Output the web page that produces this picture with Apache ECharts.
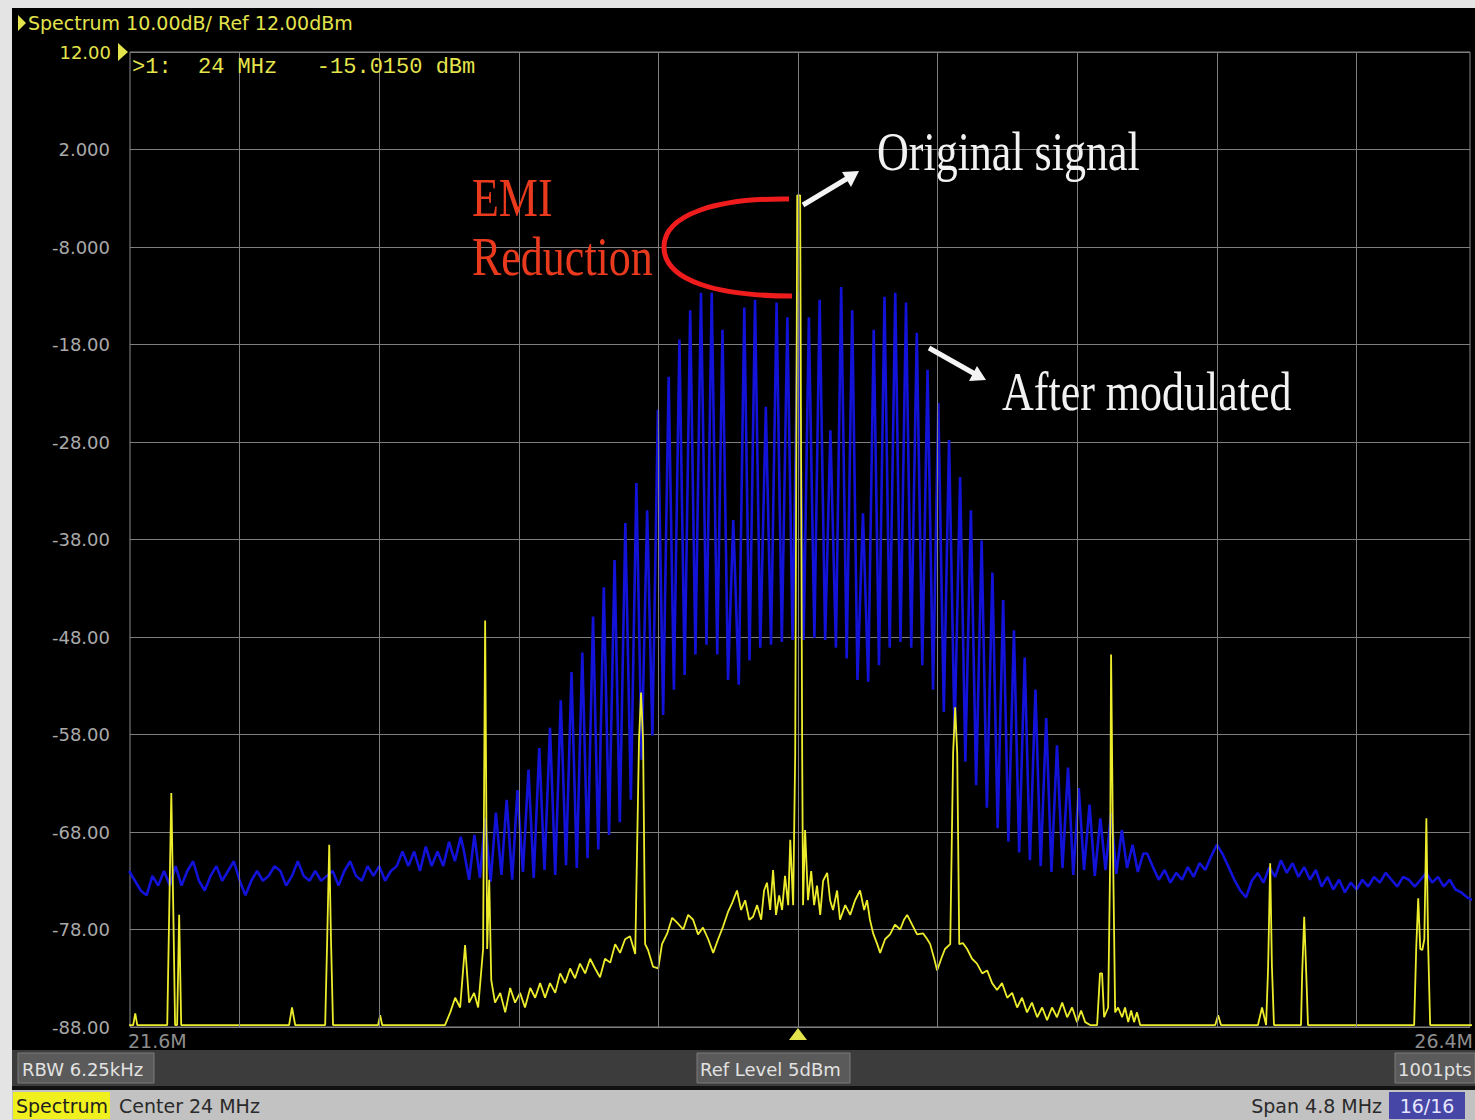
<!DOCTYPE html>
<html>
<head>
<meta charset="utf-8">
<script src="https://cdn.jsdelivr.net/npm/echarts@6/dist/echarts.min.js"></script>
<style>
html,body{margin:0;padding:0;background:#000;}
#c{width:1475px;height:1120px;}
</style>
</head>
<body>
<div id="c"></div>
<script>
// ---------- axis settings (MHz / dBm) ----------
const freqMin = 21.703, freqMax = 26.310;
const levelMin = -88, levelMax = 12, levelStep = 10;
const gridFreqs = [22.08, 22.56, 23.04, 23.52, 24.00, 24.48, 24.96, 25.44, 25.92];

// ---------- blue trace: after modulation ----------
const blueNoiseLeft = [
 [21.70,-72.0],[21.72,-73.0],[21.74,-74.0],[21.76,-74.5],[21.78,-72.5],[21.80,-73.5],[21.82,-72.0],[21.84,-73.5],
 [21.86,-71.5],[21.88,-73.5],[21.90,-72.0],[21.92,-71.0],[21.94,-73.0],[21.96,-74.0],[21.98,-72.5],[22.00,-71.5],
 [22.02,-73.0],[22.04,-72.0],[22.06,-71.0],[22.08,-73.0],[22.10,-74.5],[22.12,-73.0],[22.14,-72.0],[22.16,-73.0],
 [22.18,-72.5],[22.20,-71.5],[22.22,-72.0],[22.24,-73.5],[22.26,-72.5],[22.28,-71.0],[22.30,-72.5],[22.32,-73.0],
 [22.34,-72.0],[22.36,-73.0],[22.38,-72.5],[22.40,-72.0],[22.42,-73.5],[22.44,-72.0],[22.46,-71.0],[22.48,-72.5],
 [22.50,-73.0],[22.52,-71.5],[22.54,-72.5],[22.56,-71.5],[22.58,-73.0],[22.60,-72.0],[22.62,-71.5],[22.64,-70.0],
 [22.66,-71.5],[22.68,-70.0],[22.70,-72.0],[22.72,-69.5],[22.74,-71.5],[22.76,-70.0],[22.78,-71.5],[22.80,-69.0],
 [22.82,-71.0],[22.84,-68.5]
];
const blueComb = [
 [22.850,-69.8],[22.869,-72.9],[22.887,-68.3],[22.906,-72.7],[22.924,-66.6],[22.943,-73.1],[22.961,-66.0],[22.980,-72.4],
 [22.998,-64.7],[23.017,-72.9],[23.035,-63.7],[23.054,-72.1],[23.073,-61.6],[23.091,-72.7],[23.110,-59.4],[23.128,-71.9],
 [23.147,-57.3],[23.165,-72.4],[23.184,-54.5],[23.202,-71.4],[23.221,-51.6],[23.239,-71.7],[23.258,-49.6],[23.276,-70.7],
 [23.295,-45.9],[23.313,-69.8],[23.332,-42.9],[23.350,-68.3],[23.369,-40.1],[23.387,-67.0],[23.406,-36.3],[23.425,-64.7],
 [23.444,-32.2],[23.462,-60.6],[23.481,-35.0],[23.499,-58.1],[23.518,-24.7],[23.536,-56.0],[23.555,-21.3],[23.573,-53.4],
 [23.592,-17.5],[23.610,-51.9],[23.629,-14.5],[23.647,-49.8],[23.666,-12.7],[23.685,-48.8],[23.703,-12.7],[23.722,-49.8],
 [23.740,-16.5],[23.759,-52.4],[23.777,-36.0],[23.796,-52.9],[23.815,-14.2],[23.833,-50.4],[23.852,-13.4],[23.870,-49.1],
 [23.889,-24.4],[23.907,-48.8],[23.926,-13.7],[23.944,-48.5],[23.963,-15.2],[23.981,-48.3],[24.000,-12.6],[24.019,-48.3],
 [24.037,-15.2],[24.056,-48.1],[24.074,-13.4],[24.093,-48.3],[24.111,-26.8],[24.130,-49.1],[24.148,-12.1],[24.167,-50.2],
 [24.186,-14.5],[24.204,-52.4],[24.223,-35.3],[24.241,-52.6],[24.260,-16.5],[24.278,-50.9],[24.297,-13.1],[24.315,-49.1],
 [24.334,-12.7],[24.352,-48.5],[24.371,-13.7],[24.389,-49.1],[24.408,-16.8],[24.427,-50.9],[24.445,-20.6],[24.464,-53.4],
 [24.482,-24.0],[24.501,-55.7],[24.519,-27.8],[24.538,-58.1],[24.557,-31.6],[24.575,-60.8],[24.594,-35.0],[24.612,-63.2],
 [24.631,-38.1],[24.649,-65.5],[24.668,-41.4],[24.686,-67.6],[24.705,-44.2],[24.723,-69.0],[24.742,-47.3],[24.760,-70.1],
 [24.779,-50.1],[24.797,-70.9],[24.816,-53.4],[24.834,-71.5],[24.853,-56.3],[24.871,-72.1],[24.890,-59.1],[24.909,-71.7],
 [24.928,-61.4],[24.946,-72.4],[24.965,-63.5],[24.983,-71.9],[25.002,-65.2],[25.020,-72.5],[25.039,-66.6],[25.057,-71.9],
 [25.076,-66.0],[25.094,-72.3],[25.113,-67.8],[25.131,-71.7],[25.150,-69.3],[25.168,-72.1],[25.187,-70.2]
];
const blueNoiseRight = [
 [25.20,-70.2],[25.22,-71.6],[25.24,-72.9],[25.26,-71.9],[25.28,-73.2],[25.30,-72.2],[25.32,-72.9],[25.34,-71.6],
 [25.36,-72.6],[25.38,-71.2],[25.40,-71.9],[25.42,-70.5],[25.44,-69.3],[25.46,-70.3],[25.48,-71.6],[25.50,-72.9],
 [25.52,-74.0],[25.54,-74.7],[25.56,-73.0],[25.58,-72.2],[25.60,-73.2],[25.62,-71.6],[25.64,-72.6],[25.66,-70.9],
 [25.68,-72.2],[25.70,-71.2],[25.72,-72.6],[25.74,-71.6],[25.76,-72.9],[25.78,-71.9],[25.80,-73.6],[25.82,-72.6],
 [25.84,-73.9],[25.86,-72.9],[25.88,-74.2],[25.90,-73.2],[25.92,-73.9],[25.94,-72.9],[25.96,-73.6],[25.98,-72.6],
 [26.00,-73.2],[26.02,-72.2],[26.04,-72.9],[26.06,-73.6],[26.08,-72.6],[26.10,-72.9],[26.12,-73.6],[26.14,-72.9],
 [26.16,-72.2],[26.18,-73.2],[26.20,-72.6],[26.22,-73.6],[26.24,-72.9],[26.26,-73.9],[26.28,-74.2],[26.30,-74.7],
 [26.32,-75.0]
];

// ---------- yellow trace: original signal ----------
const yellowTrace = [
 [21.700,-87.8],[21.714,-87.8],[21.721,-86.6],[21.728,-87.8],
 [21.831,-87.8],[21.838,-76.0],[21.845,-64.0],[21.852,-76.3],[21.858,-87.8],
 [21.865,-87.8],[21.872,-76.5],[21.879,-87.8],
 [22.250,-87.8],[22.260,-86.0],[22.271,-87.8],
 [22.374,-87.8],[22.381,-79.0],[22.388,-69.3],[22.394,-79.0],[22.401,-87.8],
 [22.556,-87.8],[22.563,-86.8],[22.570,-87.8],
 [22.786,-87.8],[22.804,-86.5],[22.821,-85.0],[22.838,-86.0],[22.855,-79.6],[22.869,-85.5],[22.886,-84.5],[22.900,-86.0],
 [22.917,-80.0],[22.924,-46.3],[22.931,-80.0],[22.938,-72.9],[22.945,-83.2],
 [22.958,-85.5],[22.976,-84.5],[22.993,-86.5],[23.010,-84.0],[23.027,-85.5],[23.044,-84.5],[23.061,-86.0],[23.079,-84.0],
 [23.096,-85.0],[23.113,-83.5],[23.130,-85.0],[23.147,-83.5],[23.165,-84.5],[23.182,-82.5],[23.199,-83.5],[23.216,-82.0],
 [23.233,-83.0],[23.250,-81.5],[23.268,-82.5],[23.285,-81.0],[23.302,-82.0],[23.319,-82.9],[23.336,-81.0],[23.354,-81.4],
 [23.371,-79.5],[23.388,-80.4],[23.405,-79.0],[23.422,-78.7],[23.440,-80.5],
 [23.453,-58.6],[23.460,-53.7],[23.467,-58.6],[23.474,-79.5],
 [23.484,-80.1],[23.501,-81.8],[23.519,-82.0],[23.532,-79.5],[23.550,-78.4],[23.567,-76.8],[23.584,-77.3],[23.605,-78.0],
 [23.622,-76.5],[23.639,-77.0],[23.656,-78.5],[23.673,-77.8],[23.691,-79.0],[23.708,-80.4],[23.725,-79.0],[23.742,-77.7],
 [23.759,-76.2],[23.773,-75.3],[23.790,-74.0],[23.804,-76.0],[23.818,-75.0],[23.832,-77.0],[23.845,-76.7],[23.859,-75.5],
 [23.873,-77.0],[23.883,-74.0],[23.893,-73.2],[23.904,-76.0],[23.914,-71.9],[23.924,-76.5],[23.935,-74.5],[23.945,-76.0],
 [23.955,-72.5],[23.966,-75.5],[23.973,-68.8],[23.983,-75.5],
 [23.990,-60.0],[23.997,-2.7],[24.007,-2.7],[24.014,-60.0],
 [24.017,-75.5],[24.024,-67.8],[24.034,-75.0],[24.045,-72.0],[24.055,-75.5],[24.065,-73.5],[24.076,-76.5],[24.086,-73.0],
 [24.100,-72.2],[24.110,-75.0],[24.120,-76.0],[24.134,-74.0],[24.144,-77.0],[24.162,-75.5],[24.179,-76.5],[24.196,-75.0],
 [24.213,-74.0],[24.227,-76.0],[24.237,-75.0],[24.247,-77.0],[24.258,-78.4],[24.272,-79.5],[24.282,-80.4],[24.299,-79.0],
 [24.316,-78.5],[24.333,-77.5],[24.351,-78.0],[24.364,-77.0],[24.375,-76.5],[24.392,-77.5],[24.409,-78.5],[24.430,-78.4],
 [24.444,-79.0],[24.454,-79.5],[24.468,-81.0],[24.478,-82.2],[24.492,-81.0],[24.505,-80.0],[24.523,-79.5],
 [24.533,-59.9],[24.540,-55.2],[24.547,-59.9],[24.554,-79.5],
 [24.567,-79.4],[24.581,-80.0],[24.598,-81.0],[24.615,-81.5],[24.633,-82.5],[24.650,-82.2],[24.667,-83.5],[24.684,-84.2],
 [24.701,-83.5],[24.719,-85.0],[24.736,-84.5],[24.753,-86.0],[24.770,-85.0],[24.787,-86.5],[24.804,-85.5],[24.822,-87.0],
 [24.839,-86.0],[24.856,-87.3],[24.873,-86.0],[24.890,-87.0],[24.908,-85.5],[24.925,-87.0],[24.942,-86.0],[24.959,-87.5],
 [24.973,-86.3],[24.987,-87.5],[25.004,-87.8],
 [25.028,-87.8],[25.038,-82.5],[25.045,-82.5],[25.052,-87.0],[25.066,-86.0],[25.073,-70.6],[25.076,-49.8],[25.083,-70.6],
 [25.090,-86.5],[25.100,-86.0],[25.114,-87.0],[25.124,-86.0],[25.135,-87.5],[25.145,-86.3],[25.155,-87.5],[25.165,-86.5],
 [25.176,-87.8],
 [25.434,-87.8],[25.444,-86.8],[25.454,-87.8],
 [25.581,-87.8],[25.595,-86.0],[25.609,-87.8],[25.616,-81.8],[25.623,-71.2],[25.629,-81.8],[25.636,-87.8],
 [25.729,-87.8],[25.733,-82.5],[25.740,-76.7],[25.747,-82.5],[25.753,-87.8],
 [26.118,-87.8],[26.125,-80.0],[26.132,-74.8],[26.139,-80.0],[26.146,-80.1],[26.153,-79.0],[26.160,-66.6],[26.166,-79.5],
 [26.173,-87.8],
 [26.318,-87.8]
];

// ---------- texts ----------
const headerText = 'Spectrum 10.00dB/ Ref 12.00dBm';
const refLabel = '12.00';
const markerText = '>1:  24 MHz   -15.0150 dBm';
const startLabel = '21.6M', stopLabel = '26.4M';
const statusBoxes = ['RBW 6.25kHz', 'Ref Level 5dBm', '1001pts'];
const footerLeft = ['Spectrum', 'Center 24 MHz'];
const footerRight = ['Span 4.8 MHz', '16/16'];
const annotations = { emi1: 'EMI', emi2: 'Reduction', orig: 'Original signal', after: 'After modulated' };

const blueData = blueNoiseLeft.concat(blueComb, blueNoiseRight);

const YEL = '#e4e44c';
const SANS = '"DejaVu Sans", sans-serif';
const SERIF = '"Liberation Serif", "DejaVu Serif", serif';

function txt(x, y, text, font, fill, align, extra) {
  return Object.assign({
    type: 'text', x: x, y: y, z: 100,
    style: { text: text, font: font, fill: fill, align: align || 'left', verticalAlign: 'middle',
             textAlign: align || 'left', textVerticalAlign: 'middle' }
  }, extra || {});
}

const graphic = [
  // frame strips
  { type: 'rect', z: 90, shape: { x: 0, y: 0, width: 1475, height: 8 }, style: { fill: '#e4e4e4' } },
  { type: 'rect', z: 90, shape: { x: 0, y: 0, width: 12, height: 1120 }, style: { fill: '#e4e4e4' } },
  // header
  { type: 'polygon', z: 100, shape: { points: [[18, 15], [26, 23], [18, 31]] }, style: { fill: YEL } },
  txt(28, 23, headerText, '19px ' + SANS, YEL),
  txt(111, 52, refLabel, '18px ' + SANS, YEL, 'right'),
  { type: 'polygon', z: 100, shape: { points: [[118, 43], [128, 52], [118, 61]] }, style: { fill: YEL } },
  txt(132, 67, markerText, '22px "Liberation Mono", "DejaVu Sans Mono", monospace', YEL),
  // x labels + center marker
  txt(128, 1041, startLabel, '19px ' + SANS, '#8e8e8e'),
  txt(1473, 1041, stopLabel, '19px ' + SANS, '#8e8e8e', 'right'),
  { type: 'polygon', z: 100, shape: { points: [[789, 1040], [798, 1028], [807, 1040]] }, style: { fill: YEL } },
  // status band
  { type: 'rect', z: 90, shape: { x: 12, y: 1050, width: 1463, height: 36 }, style: { fill: '#3c3c3c' } },
  { type: 'rect', z: 90, shape: { x: 12, y: 1086, width: 1463, height: 4 }, style: { fill: '#111' } },
  { type: 'rect', z: 91, shape: { x: 18, y: 1053, width: 136, height: 30 }, style: { fill: '#5a5a5a', stroke: '#7a7a7a', lineWidth: 1 } },
  txt(22, 1069, statusBoxes[0], '18px ' + SANS, '#e2e2e2'),
  { type: 'rect', z: 91, shape: { x: 697, y: 1053, width: 153, height: 30 }, style: { fill: '#5a5a5a', stroke: '#7a7a7a', lineWidth: 1 } },
  txt(700, 1069, statusBoxes[1], '18px ' + SANS, '#e2e2e2'),
  { type: 'rect', z: 91, shape: { x: 1395, y: 1053, width: 80, height: 30 }, style: { fill: '#5a5a5a', stroke: '#7a7a7a', lineWidth: 1 } },
  txt(1398, 1069, statusBoxes[2], '18px ' + SANS, '#e2e2e2'),
  // footer
  { type: 'rect', z: 90, shape: { x: 12, y: 1090, width: 1463, height: 30 }, style: { fill: '#c2c2c2' } },
  { type: 'rect', z: 91, shape: { x: 13, y: 1092, width: 97, height: 27 }, style: { fill: '#f0f01e' } },
  txt(16, 1106, footerLeft[0], '19px ' + SANS, '#1e1e1e'),
  txt(119, 1106, footerLeft[1], '19px ' + SANS, '#2a2a2a'),
  txt(1382, 1106, footerRight[0], '19px ' + SANS, '#2a2a2a', 'right'),
  { type: 'rect', z: 91, shape: { x: 1389, y: 1092, width: 76, height: 27 }, style: { fill: '#4646a6' } },
  txt(1427, 1106, footerRight[1], '19px ' + SANS, '#e6e6ff', 'center'),
  // annotations
  txt(472, 198, annotations.emi1, '44px ' + SERIF, '#ea3a1e', 'left', { scaleY: 1.25 }),
  txt(472, 257, annotations.emi2, '44px ' + SERIF, '#ea3a1e', 'left', { scaleY: 1.25 }),
  txt(877, 152, annotations.orig, '44px ' + SERIF, '#f2f2f2', 'left', { scaleY: 1.25 }),
  txt(1002, 392, annotations.after, '44px ' + SERIF, '#f2f2f2', 'left', { scaleY: 1.25 }),
  { type: 'bezierCurve', z: 100, shape: { x1: 789, y1: 199, cpx1: 718, cpy1: 198, cpx2: 664, cpy2: 214, x2: 664, y2: 247 },
    style: { stroke: '#ee1c1c', lineWidth: 5, fill: null } },
  { type: 'bezierCurve', z: 100, shape: { x1: 664, y1: 247, cpx1: 664, cpy1: 281, cpx2: 718, cpy2: 296, x2: 792, y2: 296 },
    style: { stroke: '#ee1c1c', lineWidth: 5, fill: null } },
  { type: 'line', z: 100, shape: { x1: 803, y1: 205, x2: 848, y2: 178 }, style: { stroke: '#f4f4f4', lineWidth: 5 } },
  { type: 'polygon', z: 100, shape: { points: [[859, 171], [851, 187], [842, 172]] }, style: { fill: '#f4f4f4' } },
  { type: 'line', z: 100, shape: { x1: 929, y1: 348, x2: 975, y2: 374 }, style: { stroke: '#f4f4f4', lineWidth: 5 } },
  { type: 'polygon', z: 100, shape: { points: [[986, 380], [969, 381], [977, 366]] }, style: { fill: '#f4f4f4' } }
];

const chart = echarts.init(document.getElementById('c'), null, { renderer: 'svg', width: 1475, height: 1120 });
chart.setOption({
  backgroundColor: '#000',
  animation: false,
  grid: { left: 130, top: 52, width: 1340, height: 975, show: true, borderColor: '#8a8a8a', borderWidth: 1, backgroundColor: '#000' },
  xAxis: {
    type: 'value', min: freqMin, max: freqMax,
    axisLine: { show: false }, axisTick: { show: false }, axisLabel: { show: false }, splitLine: { show: false }
  },
  yAxis: {
    type: 'value', min: levelMin, max: levelMax, interval: levelStep,
    axisLine: { show: false }, axisTick: { show: false },
    axisLabel: {
      color: '#aaaaaa', fontSize: 18, fontFamily: 'DejaVu Sans', margin: 20,
      formatter: function (v) {
        if (Math.abs(v - levelMax) < 1e-6) return '';
        return Math.abs(v) < 10 ? v.toFixed(3) : v.toFixed(2);
      }
    },
    splitLine: { lineStyle: { color: '#7e7e7e', width: 1 } }
  },
  series: [
    {
      type: 'line', name: 'grid', data: [], z: 1, silent: true,
      markLine: {
        silent: true, symbol: 'none', animation: false, label: { show: false },
        lineStyle: { color: '#7e7e7e', width: 1, type: 'solid' },
        emphasis: { disabled: true },
        data: gridFreqs.map(function (f) { return { xAxis: f }; })
      }
    },
    {
      type: 'line', name: 'After modulated', data: blueData, showSymbol: false, z: 3, silent: true,
      lineStyle: { color: '#1212d8', width: 2.6 }
    },
    {
      type: 'line', name: 'Original signal', data: yellowTrace, showSymbol: false, z: 4, silent: true,
      lineStyle: { color: '#ecec2c', width: 1.8 }
    }
  ],
  graphic: graphic
});
</script>
</body>
</html>
